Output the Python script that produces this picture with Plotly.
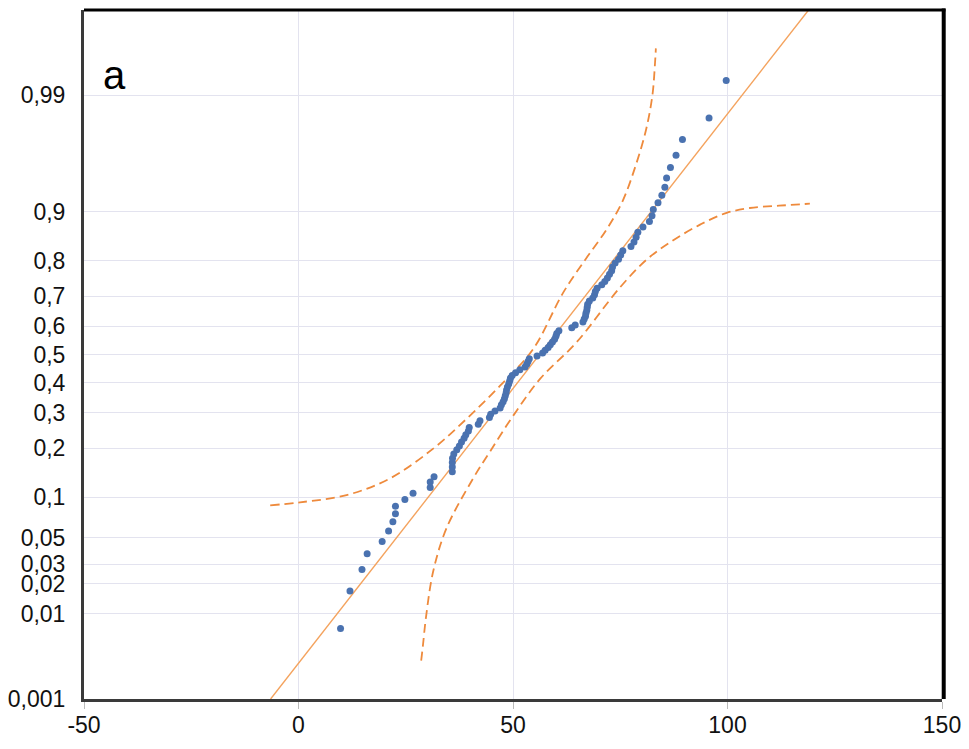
import plotly.graph_objects as go
from statistics import NormalDist

# ---------------- data ----------------
obs_x = [9.8, 12.0, 14.8, 16.0, 19.5, 21.0, 22.0, 22.6, 22.6, 24.8,
         26.7, 30.7, 30.7, 31.6, 35.85, 35.85, 35.85, 35.9, 36.2, 36.9,
         37.5, 38.0, 38.6, 39.0, 39.6, 39.8, 41.9, 42.3, 44.5, 44.8,
         45.8, 47.0, 47.3, 47.7, 48.0, 48.2, 48.4, 48.5, 48.7, 49.0,
         49.2, 49.4, 49.8, 50.6, 51.6, 52.8, 53.2, 53.5, 53.8, 55.6,
         56.9, 57.5, 58.2, 58.7, 59.2, 59.7, 60.0, 60.2, 60.7, 63.7,
         64.5, 66.3, 66.6, 66.9, 67.0, 67.2, 67.3, 67.4, 67.8, 68.6,
         69.0, 69.2, 69.6, 70.7, 71.4, 72.0, 72.5, 73.0, 73.2, 73.8,
         74.6, 75.1, 75.6, 77.5, 78.2, 78.7, 79.1, 80.3, 81.8, 82.4,
         82.7, 83.8, 84.7, 85.4, 85.8, 86.7, 88.0, 89.5, 95.7, 99.7]
obs_p = [0.0070, 0.0169, 0.0269, 0.0369, 0.0468, 0.0568, 0.0667, 0.0767, 0.0867, 0.0966,
         0.1066, 0.1165, 0.1265, 0.1365, 0.1464, 0.1564, 0.1663, 0.1763, 0.1863, 0.1962,
         0.2062, 0.2161, 0.2261, 0.2361, 0.2460, 0.2560, 0.2659, 0.2759, 0.2859, 0.2958,
         0.3058, 0.3157, 0.3257, 0.3357, 0.3456, 0.3556, 0.3655, 0.3755, 0.3855, 0.3954,
         0.4054, 0.4153, 0.4253, 0.4353, 0.4452, 0.4552, 0.4651, 0.4751, 0.4851, 0.4950,
         0.5050, 0.5149, 0.5249, 0.5349, 0.5448, 0.5548, 0.5647, 0.5747, 0.5847, 0.5946,
         0.6046, 0.6145, 0.6245, 0.6345, 0.6444, 0.6544, 0.6643, 0.6743, 0.6843, 0.6942,
         0.7042, 0.7141, 0.7241, 0.7341, 0.7440, 0.7540, 0.7639, 0.7739, 0.7839, 0.7938,
         0.8038, 0.8137, 0.8237, 0.8337, 0.8436, 0.8536, 0.8635, 0.8735, 0.8835, 0.8934,
         0.9034, 0.9133, 0.9233, 0.9333, 0.9432, 0.9532, 0.9631, 0.9731, 0.9831, 0.9930]

fit_x = [-6.5, 118.9]
fit_p = [0.001, 0.999]

band_upper_x = [-6.6, 0.35, 11.2, 21.3, 31.4, 39.2, 47.0, 54.7, 61.7,
                67.0, 71.8, 75.5, 78.6, 81.0, 82.5, 83.1, 83.3]
band_upper_p = [0.088, 0.0924, 0.1036, 0.133, 0.1993, 0.2823, 0.390, 0.5195, 0.7106,
                0.805, 0.8689, 0.915, 0.955, 0.978, 0.990, 0.9955, 0.99698]

band_lower_x = [28.6, 29.0, 29.7, 31.4, 34.5, 40.7, 44.6, 50.1, 56.3, 64.8,
                74.9, 81.2, 87.0, 93.6, 99.8, 105.2, 112.0, 119.2]
band_lower_p = [0.00302, 0.0045, 0.00909, 0.0259, 0.0596, 0.133, 0.1913, 0.2925, 0.4133, 0.5434,
                0.7257, 0.8032, 0.845, 0.878, 0.898, 0.9056, 0.909, 0.912]

y_tick_p = [0.001, 0.01, 0.02, 0.03, 0.05, 0.1, 0.2, 0.3, 0.4, 0.5, 0.6, 0.7, 0.8, 0.9, 0.99]
y_tick_text = ["0,001", "0,01", "0,02", "0,03", "0,05", "0,1", "0,2", "0,3", "0,4", "0,5",
               "0,6", "0,7", "0,8", "0,9", "0,99"]
x_tick_vals = [-50, 0, 50, 100, 150]
x_tick_text = ["-50", "0", "50", "100", "150"]
panel_label = "a"

# ---------------- probability scale ----------------
nd = NormalDist()


def zq(ps):
    return [nd.inv_cdf(p) for p in ps]


FONT = "Liberation Sans, Arial, sans-serif"
ORANGE_LINE = "#F4A35E"
ORANGE_DASH = "#EE8A3C"
BLUE = "#4A72B0"

fig = go.Figure()

dash_style = dict(color=ORANGE_DASH, width=1.8, dash="9px,5px", shape="spline", smoothing=1.0)
fig.add_trace(go.Scatter(x=band_upper_x, y=zq(band_upper_p), mode="lines",
                         line=dash_style, hoverinfo="skip", showlegend=False))
fig.add_trace(go.Scatter(x=band_lower_x, y=zq(band_lower_p), mode="lines",
                         line=dash_style, hoverinfo="skip", showlegend=False))
fig.add_trace(go.Scatter(x=fit_x, y=zq(fit_p), mode="lines",
                         line=dict(color=ORANGE_LINE, width=1.4),
                         hoverinfo="skip", showlegend=False))
fig.add_trace(go.Scatter(x=obs_x, y=zq(obs_p), mode="markers",
                         marker=dict(color=BLUE, size=7, line=dict(width=0)),
                         showlegend=False))

y_lo, y_hi = nd.inv_cdf(0.001), nd.inv_cdf(0.999)

fig.update_layout(
    width=961, height=741,
    margin=dict(l=76, r=27, t=2, b=50),
    paper_bgcolor="white", plot_bgcolor="white",
    font=dict(family=FONT, size=23, color="#111111"),
    xaxis=dict(range=[-50, 150], tickvals=x_tick_vals, ticktext=x_tick_text,
               automargin=False,
               showgrid=True, gridcolor="#E3E3EF", gridwidth=1.2,
               zeroline=False, showline=True, linecolor="#3a3a3a", linewidth=3,
               ticks="outside", ticklen=7, tickcolor="#bbbbbb", tickwidth=1.2,
               ticklabelstandoff=-4,
               tickfont=dict(family=FONT, size=23, color="#111111")),
    yaxis=dict(range=[y_lo, y_hi], tickvals=zq(y_tick_p), ticktext=y_tick_text,
               automargin=False,
               showgrid=True, gridcolor="#E3E3EF", gridwidth=1.2,
               zeroline=False, showline=True, linecolor="#3a3a3a", linewidth=3,
               ticks="", ticklabelstandoff=11,
               tickfont=dict(family=FONT, size=23, color="#111111")),
    shapes=[
        dict(type="line", xref="paper", yref="paper", x0=0, x1=1.004, y0=1, y1=1,
             line=dict(color="black", width=3)),
        dict(type="line", xref="paper", yref="paper", x0=1.002, x1=1.002, y0=0, y1=1.002,
             line=dict(color="black", width=4)),
    ],
    annotations=[dict(text=panel_label, xref="paper", yref="paper", x=0.036, y=0.905,
                      xanchor="center", yanchor="middle", showarrow=False,
                      font=dict(family=FONT, size=40, color="black"))],
)

fig.write_html("out.html")
